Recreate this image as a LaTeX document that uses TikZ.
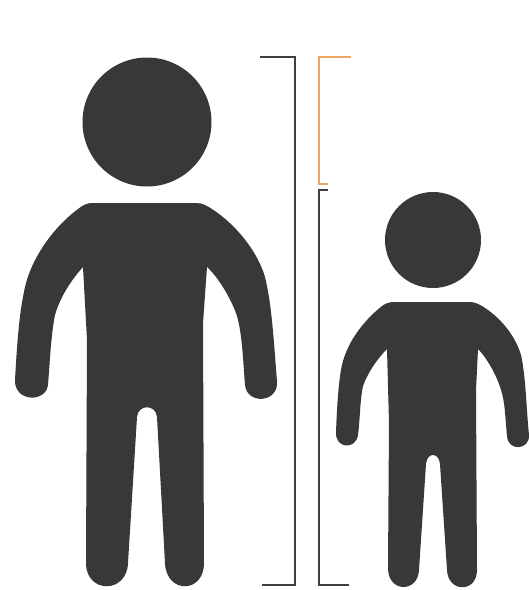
\documentclass[tikz,border=0pt]{standalone}
\usepackage{tikz}

\begin{document}
\begin{tikzpicture}[
  x=1pt, y=-1pt,
  figure/.style={fill=black!78, draw=none},
  bracket/.style={draw=black!75, line width=2pt},
  topbracket/.style={draw=orange!55!brown!70, line width=2pt}
]
\useasboundingbox (0,0) rectangle (529,590);
% tall figure
\fill[figure] (147,122) circle (64.5);
\fill[figure] (92,203) -- (196,203)
  .. controls (203,203) and (207,206) .. (212,209)
  .. controls (235,224) and (257,250) .. (265,277)
  .. controls (272,305) and (274,345) .. (277,381)
  .. controls (279,403) and (247,405) .. (245,385)
  .. controls (243,360) and (242,330) .. (236,313)
  .. controls (230,297) and (218,277) .. (207,267)
  -- (203,323) -- (204,563)
  .. controls (204,594) and (166,594) .. (165,563)
  -- (157,417) .. controls (156,404) and (138,404) .. (137,417)
  -- (128,563) .. controls (127,594) and (86,594) .. (86,563)
  -- (87,340) -- (83,267)
  .. controls (72,279) and (60,297) .. (55,315)
  .. controls (51,335) and (50,360) .. (48,385)
  .. controls (46,403) and (14,402) .. (15,380)
  .. controls (17,345) and (19,315) .. (24,292)
  .. controls (30,258) and (55,226) .. (78,209)
  .. controls (83,205) and (87,203) .. (92,203) -- cycle;
% short figure
\fill[figure] (433,240) circle (48);
\fill[figure] (394,302) -- (470,302)
  .. controls (475,302) and (478,304) .. (482,306)
  .. controls (500,317) and (515,335) .. (521,355)
  .. controls (526,378) and (526,405) .. (529,435)
  .. controls (530,450) and (508,452) .. (507,436)
  .. controls (505,415) and (505,402) .. (501,390)
  .. controls (497,376) and (487,358) .. (478,349)
  -- (476,390) -- (477,570)
  .. controls (477,593) and (448,593) .. (447,570)
  -- (440,464) .. controls (439,452) and (427,452) .. (426,464)
  -- (419,570) .. controls (418,593) and (388,593) .. (388,568)
  -- (389,423) -- (387,349)
  .. controls (378,358) and (368,372) .. (363,386)
  .. controls (360,400) and (360,420) .. (358,435)
  .. controls (356,450) and (335,449) .. (336,432)
  .. controls (337,408) and (338,388) .. (341,370)
  .. controls (345,345) and (362,322) .. (382,306)
  .. controls (386,303) and (390,302) .. (394,302) -- cycle;
% height brackets
\draw[bracket] (260,57) -- (295,57) -- (295,584.5) -- (262,584.5);
\draw[topbracket] (351,57) -- (319,57) -- (319,184) -- (328,184);
\draw[bracket] (328,190) -- (319,190) -- (319,584.5) -- (349,584.5);
\end{tikzpicture}
\end{document}
